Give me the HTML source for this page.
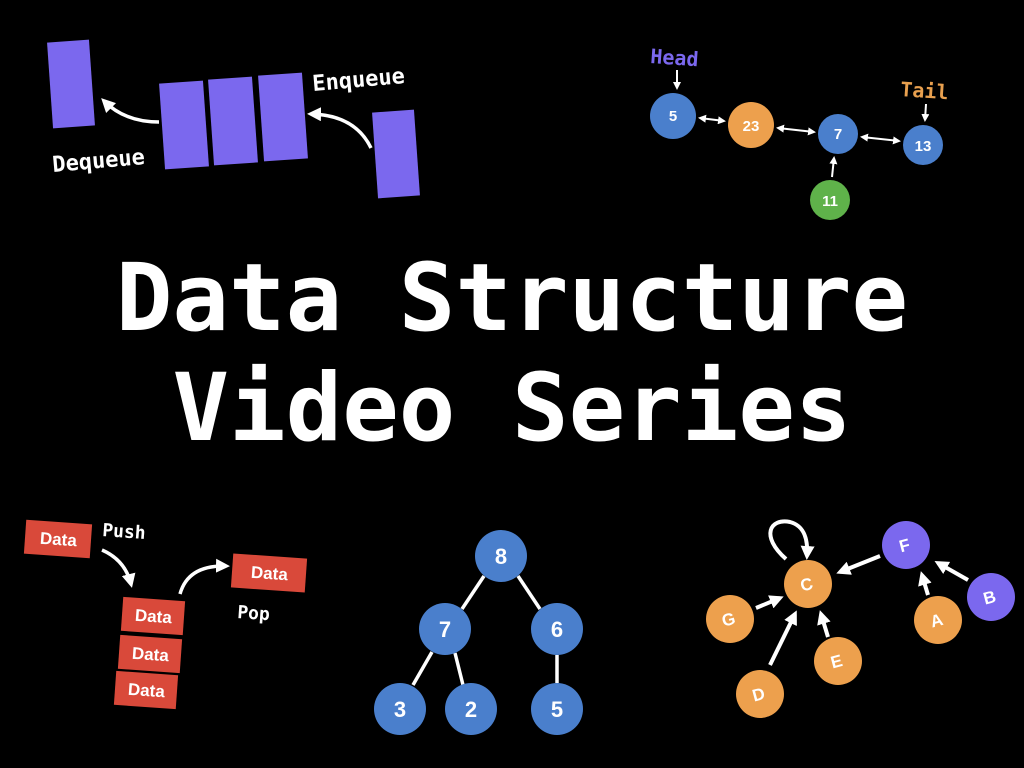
<!DOCTYPE html>
<html><head><meta charset="utf-8"><style>html,body{margin:0;padding:0;background:#000;}svg{display:block}</style></head>
<body>
<svg width="1024" height="768" viewBox="0 0 1024 768" xmlns="http://www.w3.org/2000/svg">
<defs>
<marker id="ah" markerWidth="8" markerHeight="8" refX="6" refY="4" orient="auto" markerUnits="userSpaceOnUse"><path d="M0,0 L8,4 L0,8 Z" fill="#fff"/></marker>
<marker id="ahs" markerWidth="8" markerHeight="8" refX="6" refY="4" orient="auto-start-reverse" markerUnits="userSpaceOnUse"><path d="M0,0 L8,4 L0,8 Z" fill="#fff"/></marker>
<marker id="ahb" markerWidth="14" markerHeight="14" refX="10" refY="7" orient="auto" markerUnits="userSpaceOnUse"><path d="M0,0 L14,7 L0,14 Z" fill="#fff"/></marker>
</defs>
<rect width="1024" height="768" fill="#000"/>

<!-- Queue -->
<g fill="#7b68ee">
<rect x="-21" y="-43" width="42" height="86" transform="translate(71,84) rotate(-4)"/>
<rect x="-22" y="-43" width="44" height="86" transform="translate(184,125) rotate(-4)"/>
<rect x="-22" y="-43" width="44" height="86" transform="translate(233,121) rotate(-4)"/>
<rect x="-22" y="-43" width="44" height="86" transform="translate(283,117) rotate(-4)"/>
<rect x="-21" y="-43" width="42" height="86" transform="translate(396,154) rotate(-4)"/>
</g>
<g fill="none" stroke="#fff" stroke-width="3.5">
<path d="M159,122 Q125,122 104,101" marker-end="url(#ahb)"/>
<path d="M371,148 Q355,115 311,114" marker-end="url(#ahb)"/>
</g>
<g font-family="'DejaVu Sans Mono','Liberation Mono',monospace" font-weight="bold" font-size="22" fill="#fff">
<text transform="translate(53,172) rotate(-5)">Dequeue</text>
<text transform="translate(313,91) rotate(-5)">Enqueue</text>
</g>

<!-- Linked list -->
<g stroke="#fff" stroke-width="2" fill="none">
<line x1="700" y1="118" x2="724" y2="121" marker-start="url(#ahs)" marker-end="url(#ah)"/>
<line x1="778" y1="128" x2="814" y2="132" marker-start="url(#ahs)" marker-end="url(#ah)"/>
<line x1="862" y1="137" x2="899" y2="141" marker-start="url(#ahs)" marker-end="url(#ah)"/>
<line x1="832" y1="177" x2="834" y2="158" marker-end="url(#ah)"/>
<line x1="677" y1="70" x2="677" y2="88" marker-end="url(#ah)"/>
<line x1="926" y1="104" x2="925" y2="120" marker-end="url(#ah)"/>
</g>
<circle cx="673" cy="116" r="23" fill="#4a7fcc"/>
<circle cx="751" cy="125" r="23" fill="#eda04d"/>
<circle cx="838" cy="134" r="20" fill="#4a7fcc"/>
<circle cx="923" cy="145" r="20" fill="#4a7fcc"/>
<circle cx="830" cy="200" r="20" fill="#5fb24a"/>
<g font-family="'Liberation Sans',sans-serif" font-weight="bold" font-size="15" fill="#fff" text-anchor="middle">
<text x="673" y="121">5</text><text x="751" y="131">23</text><text x="838" y="139">7</text><text x="923" y="151">13</text><text x="830" y="206">11</text>
</g>
<g font-family="'DejaVu Sans Mono','Liberation Mono',monospace" font-weight="bold" font-size="20">
<text transform="translate(650,63) rotate(4)" fill="#7b68ee">Head</text>
<text transform="translate(900,96) rotate(4)" fill="#e8a04f">Tail</text>
</g>

<!-- Title -->
<g font-family="'DejaVu Sans Mono','Liberation Mono',monospace" font-weight="bold" font-size="94" fill="#fff" text-anchor="middle">
<text x="512" y="330">Data Structure</text>
<text x="512" y="440">Video Series</text>
</g>

<!-- Stack -->
<g fill="#d9493a">
<rect x="-33" y="-17" width="66" height="34" transform="translate(58,539) rotate(4)"/>
<rect x="-37" y="-17" width="74" height="34" transform="translate(269,573) rotate(4)"/>
<rect x="-31" y="-17" width="62" height="34" transform="translate(153,616) rotate(4)"/>
<rect x="-31" y="-17" width="62" height="34" transform="translate(150,654) rotate(4)"/>
<rect x="-31" y="-17" width="62" height="34" transform="translate(146,690) rotate(4)"/>
</g>
<g font-family="'Liberation Sans',sans-serif" font-weight="bold" font-size="17" fill="#fff" text-anchor="middle">
<text transform="translate(58,545) rotate(4)">Data</text>
<text transform="translate(269,579) rotate(4)">Data</text>
<text transform="translate(153,622) rotate(4)">Data</text>
<text transform="translate(150,660) rotate(4)">Data</text>
<text transform="translate(146,696) rotate(4)">Data</text>
</g>
<g fill="none" stroke="#fff" stroke-width="3.5">
<path d="M102,550 Q125,560 131,584" marker-end="url(#ahb)"/>
<path d="M180,594 Q188,565 226,566" marker-end="url(#ahb)"/>
</g>
<g font-family="'DejaVu Sans Mono','Liberation Mono',monospace" font-weight="bold" font-size="18" fill="#fff">
<text transform="translate(102,536) rotate(4)">Push</text>
<text transform="translate(237,618) rotate(4)">Pop</text>
</g>

<!-- Tree -->
<g stroke="#fff" stroke-width="3.5">
<line x1="484" y1="576" x2="462" y2="609"/><line x1="518" y1="576" x2="540" y2="609"/>
<line x1="432" y1="652" x2="413" y2="685"/><line x1="455" y1="653" x2="463" y2="685"/>
<line x1="557" y1="655" x2="557" y2="683"/>
</g>
<g fill="#4a7fcc">
<circle cx="501" cy="556" r="26"/><circle cx="445" cy="629" r="26"/><circle cx="557" cy="629" r="26"/>
<circle cx="400" cy="709" r="26"/><circle cx="471" cy="709" r="26"/><circle cx="557" cy="709" r="26"/>
</g>
<g font-family="'Liberation Sans',sans-serif" font-weight="bold" font-size="22" fill="#fff" text-anchor="middle">
<text x="501" y="564">8</text><text x="445" y="637">7</text><text x="557" y="637">6</text>
<text x="400" y="717">3</text><text x="471" y="717">2</text><text x="557" y="717">5</text>
</g>

<!-- Graph -->
<g stroke="#fff" stroke-width="4" fill="none">
<path d="M786,559 C760,536 770,518 790,522 C805,526 808,540 807,556" marker-end="url(#ahb)"/>
<line x1="880" y1="556" x2="840" y2="572" marker-end="url(#ahb)"/>
<line x1="756" y1="608" x2="780" y2="598" marker-end="url(#ahb)"/>
<line x1="770" y1="665" x2="795" y2="614" marker-end="url(#ahb)"/>
<line x1="828" y1="637" x2="821" y2="614" marker-end="url(#ahb)"/>
<line x1="928" y1="595" x2="922" y2="575" marker-end="url(#ahb)"/>
<line x1="968" y1="580" x2="938" y2="563" marker-end="url(#ahb)"/>
</g>
<g fill="#eda04d">
<circle cx="808" cy="584" r="24"/><circle cx="730" cy="619" r="24"/><circle cx="760" cy="694" r="24"/>
<circle cx="838" cy="661" r="24"/><circle cx="938" cy="620" r="24"/>
</g>
<g fill="#7b68ee"><circle cx="906" cy="545" r="24"/><circle cx="991" cy="597" r="24"/></g>
<g font-family="'Liberation Sans',sans-serif" font-weight="bold" font-size="17" fill="#fff" text-anchor="middle">
<text transform="translate(808,590) rotate(-15)">C</text>
<text transform="translate(730,625) rotate(-15)">G</text>
<text transform="translate(760,700) rotate(-15)">D</text>
<text transform="translate(838,667) rotate(-15)">E</text>
<text transform="translate(938,626) rotate(-15)">A</text>
<text transform="translate(906,551) rotate(-15)">F</text>
<text transform="translate(991,603) rotate(-15)">B</text>
</g>
</svg>
</body></html>
